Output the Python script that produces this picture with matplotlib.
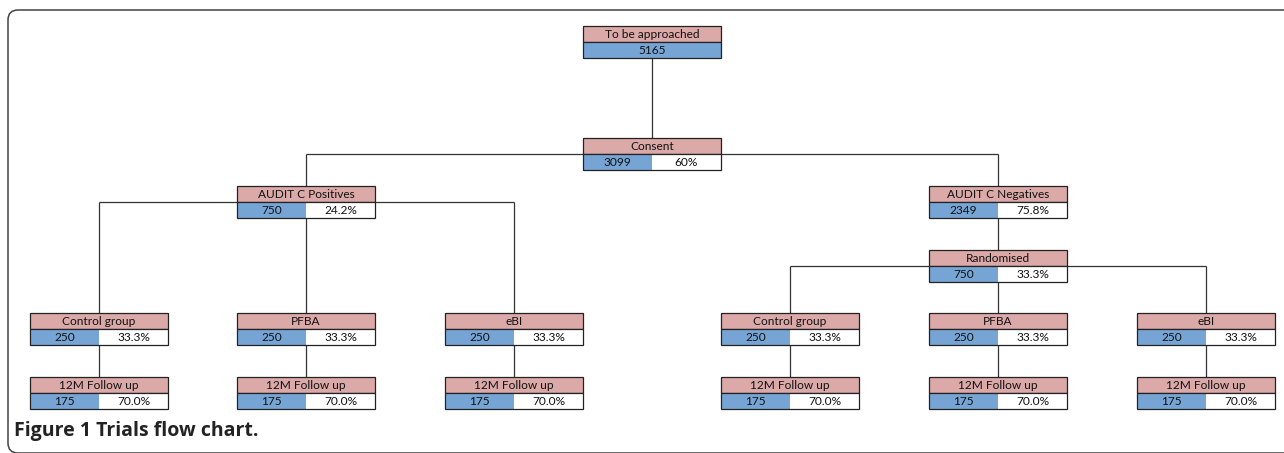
import matplotlib.pyplot as plt
from matplotlib.patches import Rectangle, FancyBboxPatch

# flow chart content
NODE_NAMES = ['approach', 'consent', 'pos', 'neg', 'rand',
              'pos_ctrl', 'pos_pfba', 'pos_ebi', 'neg_ctrl', 'neg_pfba', 'neg_ebi',
              'pos_ctrl_fu', 'pos_pfba_fu', 'pos_ebi_fu', 'neg_ctrl_fu', 'neg_pfba_fu', 'neg_ebi_fu']
NODE_TITLES = ['To be approached', 'Consent', 'AUDIT C Positives', 'AUDIT C Negatives', 'Randomised',
               'Control group', 'PFBA', 'eBI', 'Control group', 'PFBA', 'eBI',
               '12M Follow up', '12M Follow up', '12M Follow up',
               '12M Follow up', '12M Follow up', '12M Follow up']
NODE_COUNTS = [5165, 3099, 750, 2349, 750,
               250, 250, 250, 250, 250, 250,
               175, 175, 175, 175, 175, 175]
NODE_PCTS = [None, '60%', '24.2%', '75.8%', '33.3%',
             '33.3%', '33.3%', '33.3%', '33.3%', '33.3%', '33.3%',
             '70.0%', '70.0%', '70.0%', '70.0%', '70.0%', '70.0%']

CAPTION = 'Figure 1 Trials flow chart.'

# layout in pixels (left x, top y)
BOX_W = 138
ROW_H = 16
LAYOUT = {
    'approach': (583, 26), 'consent': (583, 138),
    'pos': (237, 186), 'neg': (929, 186), 'rand': (929, 250),
    'pos_ctrl': (30, 313), 'pos_pfba': (237, 313), 'pos_ebi': (445, 313),
    'neg_ctrl': (721, 313), 'neg_pfba': (929, 313), 'neg_ebi': (1137, 313),
    'pos_ctrl_fu': (30, 377), 'pos_pfba_fu': (237, 377), 'pos_ebi_fu': (445, 377),
    'neg_ctrl_fu': (721, 377), 'neg_pfba_fu': (929, 377), 'neg_ebi_fu': (1137, 377),
}

PINK = '#DBA9A8'
BLUE = '#76A5D5'
EDGE = '#222222'
LINE = '#333333'
FONT = ['Lato', 'DejaVu Sans']
FS = 8.6

fig = plt.figure(figsize=(12.84, 4.53), dpi=100)
ax = fig.add_axes([0, 0, 1, 1])
ax.set_xlim(0, 1284)
ax.set_ylim(453, 0)
ax.axis('off')

# outer frame
frame = FancyBboxPatch((8, 10), 1300, 443, boxstyle='round,pad=0,rounding_size=10',
                       fill=False, edgecolor='#444444', linewidth=1.1)
ax.add_patch(frame)


def cx(name):
    return LAYOUT[name][0] + BOX_W / 2


def line(xs, ys):
    ax.plot(xs, ys, color=LINE, linewidth=0.9, zorder=1, solid_capstyle='butt')


# connectors
line([cx('approach')] * 2, [58, 138])
line([cx('pos'), cx('neg')], [154, 154])
line([cx('pos')] * 2, [154, 186])
line([cx('neg')] * 2, [154, 186])
line([cx('pos_ctrl'), cx('pos_ebi')], [202, 202])
for n in ['pos_ctrl', 'pos_pfba', 'pos_ebi']:
    line([cx(n)] * 2, [202, 313])
line([cx('neg')] * 2, [218, 250])
line([cx('neg_ctrl'), cx('neg_ebi')], [266, 266])
for n in ['neg_ctrl', 'neg_pfba', 'neg_ebi']:
    line([cx(n)] * 2, [266, 313])
for n in ['pos_ctrl', 'pos_pfba', 'pos_ebi', 'neg_ctrl', 'neg_pfba', 'neg_ebi']:
    line([cx(n)] * 2, [345, 377])

# boxes
for name, title, count, pct in zip(NODE_NAMES, NODE_TITLES, NODE_COUNTS, NODE_PCTS):
    x, y = LAYOUT[name]
    ax.add_patch(Rectangle((x, y), BOX_W, ROW_H, facecolor=PINK, edgecolor=EDGE,
                           linewidth=0.9, zorder=2))
    ax.text(x + BOX_W / 2, y + ROW_H / 2 + 0.5, title, ha='center', va='center',
            fontsize=FS, family=FONT, color='#111111', zorder=3)
    if pct is None:
        ax.add_patch(Rectangle((x, y + ROW_H), BOX_W, ROW_H, facecolor=BLUE,
                               edgecolor=EDGE, linewidth=0.9, zorder=2))
        ax.text(x + BOX_W / 2, y + 1.5 * ROW_H + 0.5, str(count), ha='center', va='center',
                fontsize=FS, family=FONT, color='#111111', zorder=3)
    else:
        half = BOX_W / 2
        ax.add_patch(Rectangle((x, y + ROW_H), half, ROW_H, facecolor=BLUE,
                               edgecolor='none', zorder=2))
        ax.add_patch(Rectangle((x + half, y + ROW_H), half, ROW_H, facecolor='white',
                               edgecolor='none', zorder=2))
        ax.add_patch(Rectangle((x, y + ROW_H), BOX_W, ROW_H, fill=False,
                               edgecolor=EDGE, linewidth=0.9, zorder=2.5))
        ax.text(x + half / 2, y + 1.5 * ROW_H + 0.5, str(count), ha='center', va='center',
                fontsize=FS, family=FONT, color='#111111', zorder=3)
        ax.text(x + half * 1.5, y + 1.5 * ROW_H + 0.5, pct, ha='center', va='center',
                fontsize=FS, family=FONT, color='#111111', zorder=3)

ax.text(14, 431, CAPTION, ha='left', va='center', fontsize=14, fontweight='bold',
        family=['Open Sans', 'DejaVu Sans'], color='#222222')

fig.savefig('out.png', dpi=100)
